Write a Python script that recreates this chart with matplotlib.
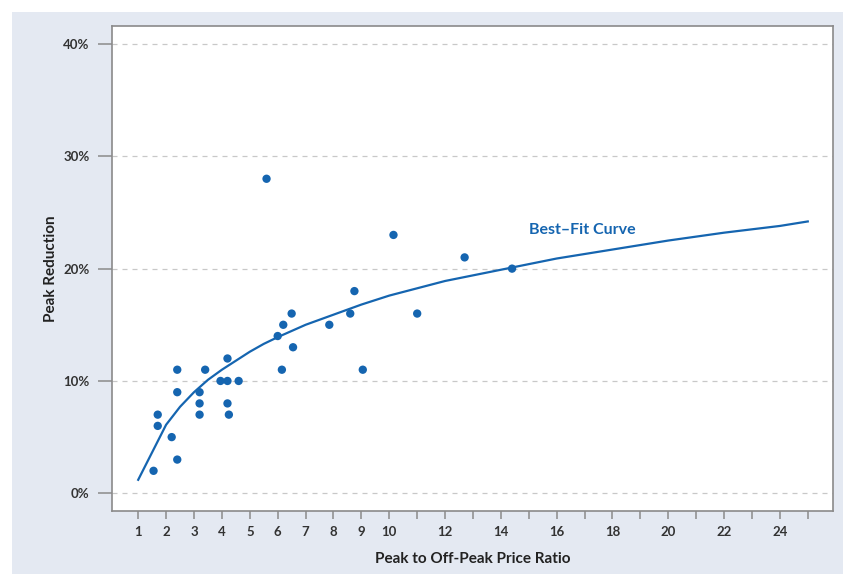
import matplotlib.pyplot as plt
from matplotlib.patches import Rectangle

# observed programs: peak-to-off-peak price ratio vs peak reduction (%)
price_ratio = [5.6, 10.15, 12.7, 14.4, 8.75, 6.5, 8.6, 11.0, 6.2, 7.85,
               6.0, 6.55, 4.2, 2.4, 3.4, 6.15, 9.05, 3.95, 4.2, 4.6,
               3.2, 2.4, 3.2, 4.2, 3.2, 4.25, 1.7, 1.7, 2.2, 2.4, 1.55]
peak_reduction = [28, 23, 21, 20, 18, 16, 16, 16, 15, 15,
                  14, 13, 12, 11, 11, 11, 11, 10, 10, 10,
                  9, 9, 8, 8, 7, 7, 7, 6, 5, 3, 2]

# best-fit curve
curve_x = [1, 2, 2.5, 3, 3.5, 4, 4.5, 5, 5.5, 6, 7, 8, 9, 10, 12, 14, 16, 18, 20, 22, 24, 25]
curve_y = [1.2, 6.1, 7.7, 9.0, 10.1, 11.0, 11.8, 12.6, 13.3, 13.9, 15.0, 15.9, 16.8, 17.6,
           18.9, 19.9, 20.9, 21.7, 22.5, 23.2, 23.8, 24.2]

x_ticks = list(range(1, 26))
x_labels = [str(t) if (t <= 10 or t % 2 == 0) else "" for t in x_ticks]
y_ticks = [0, 10, 20, 30, 40]
y_labels = ["0%", "10%", "20%", "30%", "40%"]

blue = "#1565b0"
panel = "#e4e9f2"
label_font = ["Lato", "DejaVu Sans"]

fig = plt.figure(figsize=(8.43, 5.74), dpi=100, facecolor="white")
fig.patches.append(Rectangle((12 / 843, 0), 1, 1 - 12 / 574, transform=fig.transFigure,
                             facecolor=panel, edgecolor="none", zorder=-10))
ax = fig.add_axes([0.1325, 0.1103, 0.8555, 0.8444])
ax.set_facecolor("white")

ax.plot(curve_x, curve_y, color=blue, lw=1.6, zorder=3)
ax.scatter(price_ratio, peak_reduction, s=36, color=blue, edgecolors="none", zorder=4)
ax.text(15.0, 23.4, "Best\u2013Fit Curve", color=blue, fontsize=11.5, fontweight="bold",
        family=label_font, va="center", ha="left")

ax.set_xlim(0.05, 25.9)
ax.set_ylim(-1.55, 41.6)
ax.set_xticks(x_ticks)
ax.set_xticklabels(x_labels)
ax.set_yticks(y_ticks)
ax.set_yticklabels(y_labels)

for t in y_ticks:
    ax.axhline(t, color="#c8c8c8", lw=0.9, ls=(0, (4, 4)), zorder=1)

for s in ax.spines.values():
    s.set_color("#8a8a8a")
    s.set_linewidth(1.2)

ax.tick_params(axis="x", length=6, width=1.1, color="#8a8a8a", pad=5)
ax.tick_params(axis="y", length=10, width=1.1, color="#8a8a8a", pad=6)
for lbl in ax.get_xticklabels() + ax.get_yticklabels():
    lbl.set_fontweight("bold")
    lbl.set_fontsize(9.5)
    lbl.set_color("#333333")
    lbl.set_family(label_font)

ax.set_xlabel("Peak to Off-Peak Price Ratio", fontsize=11, fontweight="bold",
              family=label_font, color="#222222", labelpad=10)
ax.set_ylabel("Peak Reduction", fontsize=11, fontweight="bold",
              family=label_font, color="#222222", labelpad=4)

fig.savefig("out.png", dpi=100, facecolor=fig.get_facecolor())
